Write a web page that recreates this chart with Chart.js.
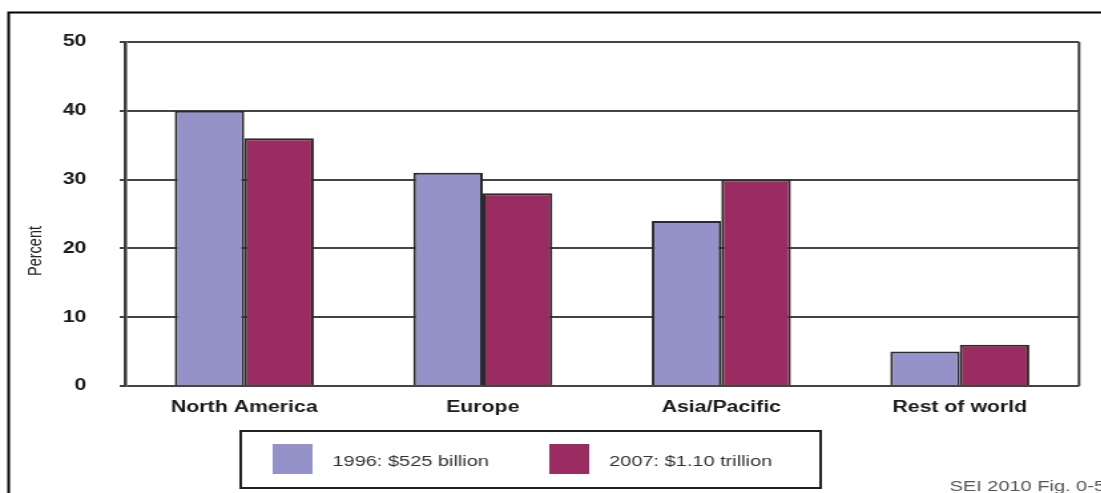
<!DOCTYPE html>
<html>
<head>
<meta charset="utf-8">
<script src="https://cdn.jsdelivr.net/npm/chart.js@4"></script>
<style>
html, body { margin: 0; padding: 0; background: #fff; overflow: hidden; }
/* the figure is laid out narrow and stretched sideways */
#wrap { width: 828px; height: 493px; transform: scaleX(1.33); transform-origin: 0 0; }
</style>
</head>
<body>
<div id="wrap"><canvas id="chart" width="828" height="493"></canvas></div>
<script>
const regions = ['North America', 'Europe', 'Asia/Pacific', 'Rest of world'];
const share1996 = [40, 31, 24, 5];
const share2007 = [36, 28, 30, 6];
const seriesLabels = ['1996: $525 billion', '2007: $1.10 trillion'];
const yTicks = [0, 10, 20, 30, 40, 50];
const yTitle = 'Percent';
const sourceNote = 'SEI 2010 Fig. 0-5';

const FONT = '"Liberation Sans", Arial, sans-serif';
const W = 828;

// frame, axis title, boxed legend and source note
const extras = {
    id: 'extras',
    afterDraw(chart) {
        const { ctx, chartArea: a } = chart;
        ctx.save();

        ctx.strokeStyle = '#000';
        ctx.lineWidth = 2;
        ctx.beginPath();
        ctx.moveTo(6.5, 493);
        ctx.lineTo(6.5, 12.5);
        ctx.lineTo(W, 12.5);
        ctx.stroke();

        ctx.strokeStyle = '#3c3c3c';
        ctx.lineWidth = 2;
        ctx.beginPath();
        ctx.moveTo(a.right, a.top);
        ctx.lineTo(a.right, a.bottom);
        ctx.stroke();

        ctx.save();
        ctx.fillStyle = '#222';
        ctx.font = '14.5px ' + FONT;
        ctx.textAlign = 'center';
        ctx.textBaseline = 'middle';
        ctx.translate(27, 251);
        ctx.rotate(-Math.PI / 2);
        ctx.fillText(yTitle, 0, 0);
        ctx.restore();

        // legend
        ctx.strokeStyle = '#222';
        ctx.lineWidth = 2;
        ctx.strokeRect(181, 431, 436, 57);
        const swatchX = [205, 413];
        chart.data.datasets.forEach((ds, i) => {
            ctx.fillStyle = ds.backgroundColor;
            ctx.fillRect(swatchX[i], 444, 30, 30);
            ctx.fillStyle = '#333';
            ctx.font = '15px ' + FONT;
            ctx.textAlign = 'left';
            ctx.textBaseline = 'middle';
            ctx.fillText(ds.label, swatchX[i] + 45, 462);
        });

        ctx.fillStyle = '#555';
        ctx.font = '15px ' + FONT;
        ctx.textAlign = 'left';
        ctx.textBaseline = 'middle';
        ctx.fillText(sourceNote, 714, 487);
        ctx.restore();
    }
};

new Chart(document.getElementById('chart'), {
    type: 'bar',
    data: {
        labels: regions,
        datasets: [{
            label: seriesLabels[0],
            data: share1996,
            backgroundColor: '#9592c9',
            borderColor: '#2a2a2a',
            borderWidth: 2
        }, {
            label: seriesLabels[1],
            data: share2007,
            backgroundColor: '#9b2c61',
            borderColor: '#2a2a2a',
            borderWidth: 2
        }]
    },
    options: {
        responsive: false,
        animation: false,
        layout: { padding: { left: 0, top: 42, right: W - 811.3, bottom: 67 } },
        datasets: { bar: { barPercentage: 1, categoryPercentage: 0.583 } },
        plugins: { legend: { display: false }, tooltip: { enabled: false } },
        scales: {
            x: {
                grid: { display: false, drawTicks: false },
                border: { display: false },
                ticks: { color: '#1a1a1a', padding: 12, font: { family: FONT, size: 16, weight: 'bold' } },
                afterFit: s => { s.height = 40; }
            },
            y: {
                min: 0,
                max: 50,
                afterBuildTicks: s => { s.ticks = yTicks.map(v => ({ value: v })); },
                grid: { color: '#444', lineWidth: 2, tickLength: 4 },
                border: { color: '#3c3c3c', width: 2.5 },
                ticks: { color: '#1a1a1a', padding: 25, font: { family: FONT, size: 16, weight: 'bold' } },
                afterFit: s => { s.width = 94; }
            }
        }
    },
    plugins: [extras]
});
</script>
</body>
</html>
